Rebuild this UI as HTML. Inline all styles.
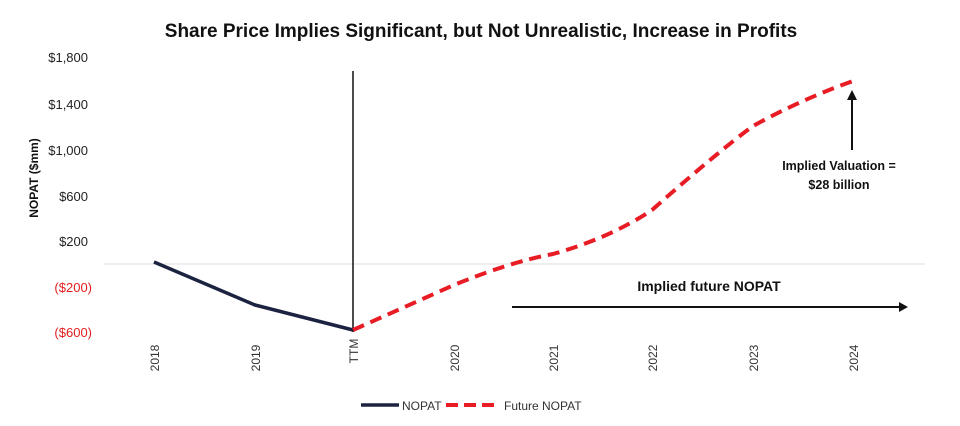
<!DOCTYPE html>
<html><head><meta charset="utf-8"><style>
body{margin:0;background:#fff;}
svg{display:block;font-family:"Liberation Sans",Arial,sans-serif;}
</style></head><body>
<svg width="960" height="426" viewBox="0 0 960 426">
<text x="481" y="37" text-anchor="middle" font-size="19" font-weight="bold" fill="#111">Share Price Implies Significant, but Not Unrealistic, Increase in Profits</text>
<g font-size="13" fill="#222" text-anchor="end">
<text x="88" y="62">$1,800</text>
<text x="88" y="109">$1,400</text>
<text x="88" y="155">$1,000</text>
<text x="88" y="201">$600</text>
<text x="88" y="246">$200</text>
<text x="92" y="292" fill="#e02020">($200)</text>
<text x="92" y="337" fill="#e02020">($600)</text>
</g>
<text transform="translate(38,178) rotate(-90)" text-anchor="middle" font-size="12" font-weight="bold" fill="#111">NOPAT ($mm)</text>
<line x1="104" y1="264" x2="925" y2="264" stroke="#ddd" stroke-width="1"/>
<line x1="353" y1="71" x2="353" y2="332" stroke="#111" stroke-width="1.5"/>
<polyline points="154,262 255,305 353,330" fill="none" stroke="#1c2340" stroke-width="3.5" stroke-linejoin="round"/>
<path d="M353,330 L454,285 Q510,262 553,254 Q610,238 652,210 Q720,150 753,126 Q800,100 853,81" fill="none" stroke="#e81c24" stroke-width="4" stroke-dasharray="12,7"/>
<g font-size="12" fill="#333">
<text transform="translate(159,358) rotate(-90)" text-anchor="middle">2018</text>
<text transform="translate(260,358) rotate(-90)" text-anchor="middle">2019</text>
<text transform="translate(358,351) rotate(-90)" text-anchor="middle">TTM</text>
<text transform="translate(459,358) rotate(-90)" text-anchor="middle">2020</text>
<text transform="translate(558,358) rotate(-90)" text-anchor="middle">2021</text>
<text transform="translate(657,358) rotate(-90)" text-anchor="middle">2022</text>
<text transform="translate(758,358) rotate(-90)" text-anchor="middle">2023</text>
<text transform="translate(858,358) rotate(-90)" text-anchor="middle">2024</text>
</g>
<line x1="852" y1="150" x2="852" y2="98" stroke="#111" stroke-width="2"/>
<polygon points="852,90 847,100 857,100" fill="#111"/>
<text x="839" y="170" text-anchor="middle" font-size="12.5" font-weight="bold" fill="#111">Implied Valuation =</text>
<text x="839" y="189" text-anchor="middle" font-size="12.5" font-weight="bold" fill="#111">$28 billion</text>
<text x="709" y="291" text-anchor="middle" font-size="14" font-weight="bold" fill="#111">Implied future NOPAT</text>
<line x1="512" y1="307" x2="900" y2="307" stroke="#111" stroke-width="2"/>
<polygon points="908,307 899,302 899,312" fill="#111"/>
<line x1="361" y1="405" x2="399" y2="405" stroke="#1c2340" stroke-width="3.5"/>
<text x="402" y="410" font-size="12" fill="#333">NOPAT</text>
<line x1="446" y1="405" x2="499" y2="405" stroke="#e81c24" stroke-width="4" stroke-dasharray="12,6"/>
<text x="504" y="410" font-size="12" fill="#333">Future NOPAT</text>
</svg>
</body></html>
